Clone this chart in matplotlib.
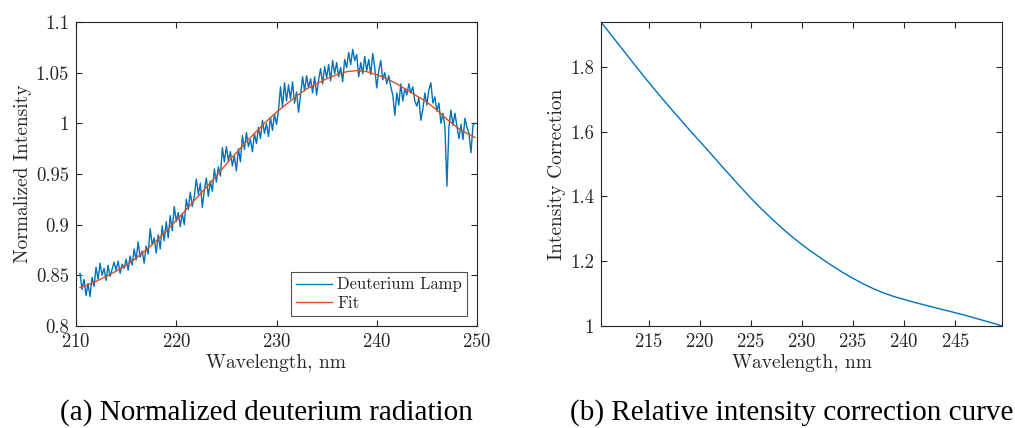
import numpy as np
import matplotlib
matplotlib.use("Agg")
import matplotlib.pyplot as plt
from matplotlib.ticker import FormatStrFormatter

# ==== data ====
# noisy lamp trace, 0.2 nm grid from 210.4 to 249.8 nm
lamp_wl = np.round(np.arange(210.4, 249.81, 0.2), 1)
lamp_val = [
    0.852, 0.836, 0.846,
    0.830, 0.842, 0.829, 0.848, 0.839,
    0.858, 0.846, 0.862, 0.850, 0.857,
    0.845, 0.860, 0.849, 0.856, 0.863,
    0.855, 0.864, 0.852, 0.861, 0.857,
    0.866, 0.855, 0.869, 0.860, 0.876,
    0.865, 0.883, 0.868, 0.874, 0.862,
    0.879, 0.871, 0.896, 0.880, 0.887,
    0.872, 0.890, 0.876, 0.899, 0.884,
    0.903, 0.887, 0.909, 0.894, 0.918,
    0.903, 0.912, 0.898, 0.911, 0.900,
    0.925, 0.915, 0.932, 0.918, 0.928,
    0.945, 0.930, 0.941, 0.917, 0.934,
    0.946, 0.928, 0.943, 0.933, 0.955,
    0.942, 0.957, 0.948, 0.976, 0.962,
    0.977, 0.963, 0.972, 0.958, 0.968,
    0.953, 0.975, 0.962, 0.988, 0.974,
    0.991, 0.977, 0.984, 0.972, 0.990,
    0.980, 0.996, 0.985, 1.003, 0.990,
    1.000, 0.987, 1.006, 0.993, 1.009,
    0.999, 1.013, 1.036, 1.016, 1.040,
    1.022, 1.038, 1.024, 1.041, 1.020,
    1.031, 1.011, 1.028, 1.046, 1.032,
    1.047, 1.035, 1.044, 1.030, 1.046,
    1.028, 1.043, 1.054, 1.039, 1.056,
    1.045, 1.058, 1.042, 1.062, 1.049,
    1.060, 1.046, 1.055, 1.041, 1.063,
    1.055, 1.070, 1.058, 1.073, 1.062,
    1.068, 1.046, 1.060, 1.049, 1.066,
    1.052, 1.063, 1.048, 1.069, 1.055,
    1.035, 1.052, 1.062, 1.043, 1.050,
    1.039, 1.047, 1.036, 1.028, 1.008,
    1.030, 1.018, 1.039, 1.022, 1.034,
    1.028, 1.039, 1.030, 1.036, 1.022,
    1.017, 1.025, 1.003, 1.014, 1.030,
    1.018, 1.033, 1.040, 1.020, 1.026,
    1.012, 1.020, 1.000, 1.010, 0.996,
    0.938, 0.996, 1.013, 0.998, 1.010,
    0.997, 0.985, 0.999, 0.984, 1.005,
    0.996, 0.990, 0.971, 0.998, 1.000,
]

fit_wl = [210.4] + list(range(211, 250)) + [249.8]
fit_val = [0.838, 0.840, 0.844, 0.849, 0.854, 0.860, 0.867, 0.875, 0.884, 0.894,
           0.904, 0.915, 0.926, 0.937, 0.948, 0.960, 0.971, 0.982, 0.992, 1.002,
           1.011, 1.019, 1.027, 1.034, 1.039, 1.044, 1.048, 1.051, 1.052, 1.051,
           1.048, 1.044, 1.039, 1.033, 1.027, 1.021, 1.013, 1.004, 0.996, 0.990,
           0.986]

corr_wl = [210.3] + list(range(211, 250)) + [249.6]
corr_val = [1.938, 1.910, 1.870, 1.830, 1.790, 1.751, 1.713, 1.676, 1.640, 1.604,
            1.569, 1.534, 1.498, 1.463, 1.428, 1.394, 1.362, 1.332, 1.303, 1.276,
            1.251, 1.228, 1.206, 1.185, 1.165, 1.147, 1.130, 1.115, 1.102, 1.091,
            1.082, 1.073, 1.065, 1.057, 1.049, 1.041, 1.033, 1.024, 1.015, 1.006,
            1.000]

# ==== style ====
plt.rcParams["font.family"] = "cmr10"
plt.rcParams["axes.formatter.use_mathtext"] = True
dark = "#262626"

fig = plt.figure(figsize=(10.15, 4.28), dpi=100)
ax1 = fig.add_axes([76/1015, 102/428, 401/1015, 304/428])
ax2 = fig.add_axes([601/1015, 102/428, 401/1015, 304/428])

ax1.plot(lamp_wl, lamp_val, color="#0072BD", lw=1.0, label="Deuterium Lamp")
ax1.plot(fit_wl, fit_val, color="#D95319", lw=1.0, label="Fit")
ax1.set_xlim(210, 250)
ax1.set_ylim(0.8, 1.1)
ax1.set_xticks([210, 220, 230, 240, 250])
ax1.set_yticks([0.8, 0.85, 0.9, 0.95, 1.0, 1.05, 1.1])
ax1.yaxis.set_major_formatter(FormatStrFormatter("%g"))
ax1.set_ylabel("Normalized Intensity", fontsize=14, color=dark, labelpad=3)
leg = ax1.legend(loc="lower right", fontsize=12, frameon=True, fancybox=False,
                 edgecolor=dark, borderpad=0.3, handlelength=2.2,
                 handletextpad=0.3, labelspacing=0.2, borderaxespad=0.6)
leg.get_frame().set_linewidth(0.8)
for t in leg.get_texts():
    t.set_color(dark)

ax2.plot(corr_wl, corr_val, color="#0072BD", lw=1.0)
ax2.set_xlim(210.3, 249.6)
ax2.set_ylim(1.0, 1.938)
ax2.set_xticks([215, 220, 225, 230, 235, 240, 245])
ax2.set_yticks([1.0, 1.2, 1.4, 1.6, 1.8])
ax2.yaxis.set_major_formatter(FormatStrFormatter("%g"))
ax2.set_ylabel("Intensity Correction", fontsize=14, color=dark, labelpad=3)

for ax in (ax1, ax2):
    ax.set_xlabel("Wavelength, nm", fontsize=14, color=dark, labelpad=2)
    ax.tick_params(direction="in", top=True, right=True, length=4, width=0.8,
                   labelsize=13.5, colors=dark, pad=5)
    for s in ax.spines.values():
        s.set_color(dark)
        s.set_linewidth(0.8)

cap = dict(fontsize=21, family="Liberation Serif", ha="center", va="center", color="black")
fig.text(266/1015, 1 - 413/428, "(a) Normalized deuterium radiation", **cap)
fig.text(792/1015, 1 - 413/428, "(b) Relative intensity correction curve", **cap)

fig.savefig("out.png", dpi=100)
